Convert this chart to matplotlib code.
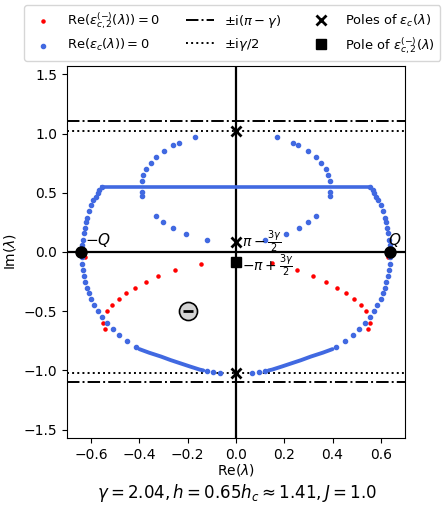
import numpy as np
import matplotlib
matplotlib.use('Agg')
import matplotlib.pyplot as plt

gamma = 2.04
q_re = 0.64

# Re(eps_c) = 0, sparse points (left half, mirrored for the right half)
blue_outer_x = [-0.638, -0.634, -0.630, -0.627, -0.620, -0.616, -0.608, -0.600, -0.590, -0.580,
                -0.572, -0.566, -0.556,
                -0.638, -0.637, -0.633, -0.629, -0.623, -0.616, -0.608, -0.599, -0.586, -0.571,
                -0.554, -0.535, -0.510, -0.484, -0.452, -0.415,
                -0.121, -0.094, -0.066]
blue_outer_y = [0.059, 0.100, 0.163, 0.200, 0.250, 0.290, 0.350, 0.400, 0.435, 0.467,
                0.495, 0.520, 0.546,
                -0.045, -0.100, -0.152, -0.200, -0.250, -0.300, -0.350, -0.400, -0.450, -0.500,
                -0.548, -0.600, -0.650, -0.700, -0.750, -0.800,
                -1.008, -1.015, -1.018]
blue_inner_x = [-0.170, -0.236, -0.259, -0.299, -0.331, -0.353, -0.371, -0.383, -0.390, -0.390, -0.388,
                -0.331, -0.300, -0.261, -0.207, -0.121]
blue_inner_y = [0.973, 0.922, 0.900, 0.852, 0.800, 0.750, 0.700, 0.652, 0.600, 0.503, 0.473,
                0.301, 0.250, 0.203, 0.152, 0.101]

# dense stretches of Re(eps_c) = 0
flat_x = [-0.556, 0.557]
flat_y = [0.548, 0.548]
arc_x = [-0.40, -0.36, -0.31, -0.27, -0.23, -0.19, -0.15, -0.135]
arc_y = [-0.820, -0.850, -0.883, -0.913, -0.940, -0.967, -0.993, -1.000]

# Re(eps_c2^(-)) = 0
red_x = [-0.627, -0.542, -0.552, -0.535, -0.513, -0.485, -0.455, -0.418, -0.374, -0.321, -0.252, -0.146,
         0.629, 0.545, 0.554, 0.538, 0.516, 0.487, 0.455, 0.419, 0.375, 0.321, 0.254, 0.148]
red_y = [-0.045, -0.650, -0.600, -0.500, -0.450, -0.400, -0.349, -0.300, -0.250, -0.200, -0.149, -0.099,
         -0.045, -0.650, -0.600, -0.500, -0.450, -0.400, -0.350, -0.300, -0.250, -0.200, -0.149, -0.096]

poles_y = [gamma / 2, -gamma / 2, np.pi - 1.5 * gamma]
pole2_y = -(np.pi - 1.5 * gamma)


def make_plot():
    fig = plt.figure(figsize=(4.46, 5.07), dpi=100)
    ax = fig.add_axes([0.150, 0.136, 0.758, 0.734])

    bx = np.array(blue_outer_x + blue_inner_x)
    by = np.array(blue_outer_y + blue_inner_y)
    ax.axhline(0, color='black', lw=1.6, zorder=1)
    ax.axvline(0, color='black', lw=1.6, zorder=1)
    ax.axhline(np.pi - gamma, color='black', ls='-.', lw=1.4)
    ax.axhline(-(np.pi - gamma), color='black', ls='-.', lw=1.4)
    ax.axhline(gamma / 2, color='black', ls=':', lw=1.4)
    ax.axhline(-gamma / 2, color='black', ls=':', lw=1.4)

    ax.plot(flat_x, flat_y, color='royalblue', lw=2.6, zorder=2)
    ax.plot(arc_x, arc_y, color='royalblue', lw=2.8, zorder=2, solid_capstyle='round')
    ax.plot(-np.array(arc_x), arc_y, color='royalblue', lw=2.8, zorder=2, solid_capstyle='round')

    ax.scatter(red_x, red_y, s=5, color='red', zorder=3)
    ax.scatter(np.concatenate([bx, -bx]), np.concatenate([by, by]), s=9, color='royalblue', zorder=3)

    ax.plot([0, 0, 0], poles_y, 'x', color='black', ms=7, mew=2, zorder=4)
    ax.plot([0], [pole2_y], 's', color='black', ms=7, zorder=4)
    ax.plot([-q_re, q_re], [0, 0], 'o', color='black', ms=8, zorder=4)

    ax.plot([-0.2], [-0.5], 'o', mfc='lightgray', mec='black', mew=1.2, ms=13, zorder=4)
    ax.plot([-0.2], [-0.5], '_', color='black', ms=7, mew=2, zorder=5)

    ax.text(-0.625, 0.025, '$-Q$', fontsize=11, va='bottom')
    ax.text(0.658, 0.025, '$Q$', fontsize=11, ha='center', va='bottom')
    ax.text(0.025, 0.09, r'$\pi-\frac{3\gamma}{2}$', fontsize=10, va='center')
    ax.text(0.025, -0.12, r'$-\pi+\frac{3\gamma}{2}$', fontsize=10, va='center')

    ax.set_xlim(-0.7, 0.7)
    ax.set_ylim(-np.pi / 2, np.pi / 2)
    ax.set_xticks([-0.6, -0.4, -0.2, 0.0, 0.2, 0.4, 0.6])
    ax.set_yticks([-1.5, -1.0, -0.5, 0.0, 0.5, 1.0, 1.5])
    ax.set_xlabel(r'Re($\lambda$)', labelpad=0.5)
    ax.set_ylabel(r'Im($\lambda$)')

    h1 = ax.scatter([], [], s=5, color='red')
    h2 = ax.scatter([], [], s=9, color='royalblue')
    h3, = ax.plot([], [], color='black', ls='-.', lw=1.4)
    h4, = ax.plot([], [], color='black', ls=':', lw=1.4)
    h5, = ax.plot([], [], 'x', color='black', ms=7, mew=2, ls='none')
    h6, = ax.plot([], [], 's', color='black', ms=7, ls='none')
    labels = [r'Re$(\varepsilon_{c,2}^{(-)}(\lambda))=0$', r'Re$(\varepsilon_c(\lambda))=0$',
              r'$\pm$i$(\pi-\gamma)$', r'$\pm$i$\gamma/2$',
              r'Poles of $\varepsilon_c(\lambda)$', r'Pole of $\varepsilon_{c,2}^{(-)}(\lambda)$']
    ax.legend([h1, h2, h3, h4, h5, h6], labels, ncol=3, loc='upper left',
              bbox_to_anchor=(24 / 446, 1 - 5 / 507), bbox_transform=fig.transFigure,
              borderaxespad=0, fontsize=9.4, handlelength=2.1, columnspacing=2.0,
              labelspacing=0.45)

    fig.text(0.53, (507 - 493) / 507, r'$\gamma=2.04, h=0.65h_c\approx1.41, J=1.0$',
             ha='center', va='center', fontsize=12)

    fig.savefig('out.png', dpi=100)
    plt.close(fig)


if __name__ == "__main__":
    make_plot()
